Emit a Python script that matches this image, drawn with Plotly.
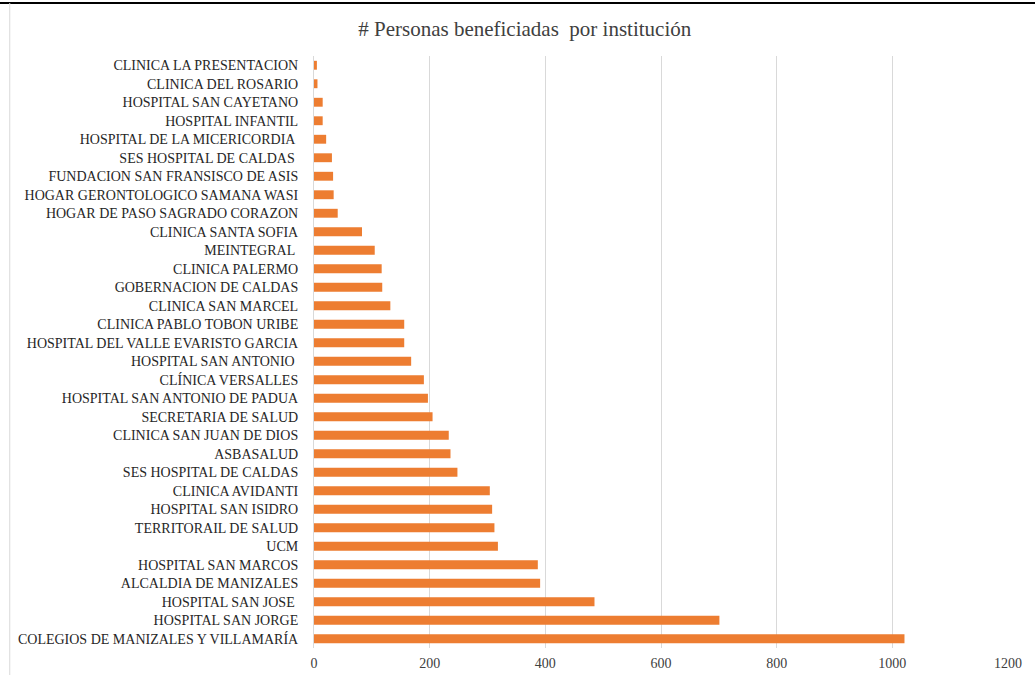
import plotly.graph_objects as go

categories = [
    "COLEGIOS DE MANIZALES Y VILLAMARÍA",
    "HOSPITAL SAN JORGE",
    "HOSPITAL SAN JOSE ",
    "ALCALDIA DE MANIZALES",
    "HOSPITAL SAN MARCOS",
    "UCM",
    "TERRITORAIL DE SALUD",
    "HOSPITAL SAN ISIDRO",
    "CLINICA AVIDANTI",
    "SES HOSPITAL DE CALDAS",
    "ASBASALUD",
    "CLINICA SAN JUAN DE DIOS",
    "SECRETARIA DE SALUD",
    "HOSPITAL SAN ANTONIO DE PADUA",
    "CLÍNICA VERSALLES",
    "HOSPITAL SAN ANTONIO ",
    "HOSPITAL DEL VALLE EVARISTO GARCIA",
    "CLINICA PABLO TOBON URIBE",
    "CLINICA SAN MARCEL",
    "GOBERNACION DE CALDAS",
    "CLINICA PALERMO",
    "MEINTEGRAL ",
    "CLINICA SANTA SOFIA",
    "HOGAR DE PASO SAGRADO CORAZON",
    "HOGAR GERONTOLOGICO SAMANA WASI",
    "FUNDACION SAN FRANSISCO DE ASIS",
    "SES HOSPITAL DE CALDAS ",
    "HOSPITAL DE LA MICERICORDIA ",
    "HOSPITAL INFANTIL",
    "HOSPITAL SAN CAYETANO",
    "CLINICA DEL ROSARIO",
    "CLINICA LA PRESENTACION",
]

values = [1021, 701, 485, 391, 387, 318, 312, 308, 304, 248, 236, 233, 205, 197, 190,
          168, 156, 156, 132, 118, 117, 105, 83, 41, 34, 33, 31, 21, 15, 15, 6, 5]

x_ticks = [0, 200, 400, 600, 800, 1000, 1200]

fig = go.Figure(go.Bar(
    x=values,
    y=categories,
    orientation="h",
    marker=dict(color="#ED7D31", line=dict(width=0)),
    width=0.48,
))

fig.update_layout(
    width=1035,
    height=675,
    paper_bgcolor="white",
    plot_bgcolor="white",
    margin=dict(l=314, r=27, t=56, b=27),
    showlegend=False,
    title=dict(
        text="# Personas beneficiadas  por institución",
        x=0.507, xanchor="center",
        y=0.958, yanchor="middle",
        font=dict(family="Liberation Serif", size=21, color="#404040"),
    ),
    font=dict(family="Liberation Serif", size=14, color="#404040"),
    shapes=[
        dict(type="line", xref="paper", yref="paper", x0=-2, x1=2, y0=1.0895, y1=1.0895,
             line=dict(color="black", width=2)),
        dict(type="line", xref="paper", yref="paper", x0=-0.4384, x1=-0.4384, y0=-0.05, y1=1.0895,
             line=dict(color="#D9D9D9", width=1)),
    ],
)

fig.update_xaxes(
    range=[0, 1200],
    tickvals=x_ticks,
    showgrid=True,
    gridcolor="#D9D9D9",
    gridwidth=1,
    zeroline=False,
    showline=False,
    ticks="",
    automargin=False,
    ticklabelstandoff=5,
    tickfont=dict(family="Liberation Serif", size=14, color="#404040"),
)

fig.update_yaxes(
    type="category",
    showgrid=False,
    showline=True,
    linecolor="#D9D9D9",
    linewidth=1,
    ticks="",
    automargin=False,
    ticklabelstandoff=12,
    tickfont=dict(family="Liberation Serif", size=14, color="#262626"),
)

fig.write_html("out.html", config={"displayModeBar": False},
               post_script="document.body.style.margin='0';")
